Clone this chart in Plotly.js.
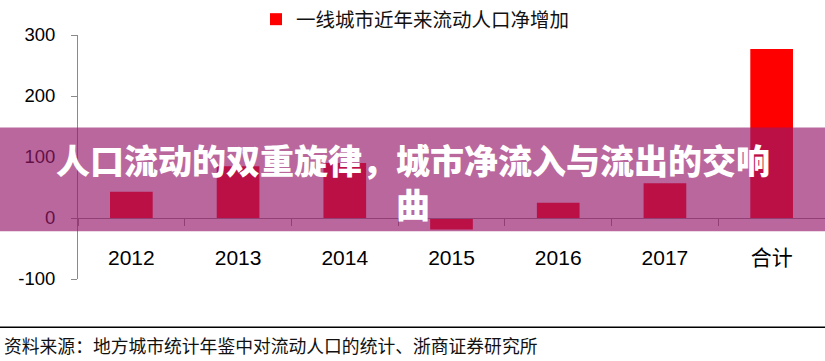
<!DOCTYPE html>
<html>
<head>
<meta charset="utf-8">
<script src="https://cdn.plot.ly/plotly-3.0.1.min.js"></script>
<style>
html,body{margin:0;padding:0;background:#fff;}
#chart{width:825px;height:361px;}
</style>
</head>
<body>
<div id="chart"></div>
<script>
const categories = ['2012', '2013', '2014', '2015', '2016', '2017', '合计'];
const netIncrease = [43, 85, 90, -19, 25, 57, 277];
const seriesName = '一线城市近年来流动人口净增加';
const yTickValues = [-100, 0, 100, 200, 300];
const bannerText = '人口流动的双重旋律，城市净流入与流出的交响<br>曲';
const sourceText = '资料来源：地方城市统计年鉴中对流动人口的统计、浙商证券研究所';

const W = 825, H = 361;
const mL = 78, mR = 0, mT = 34, mB = 82;
const plotH = H - mT - mB;
const plotW = W - mL - mR;
const py = p => (H - mB - p) / plotH;   // pixel y -> paper y
const px = p => (p - mL) / plotW;       // pixel x -> paper x

const axisGray = '#8a8a8a';
const numFont = 'Liberation Sans, Arial, Noto Sans CJK SC, sans-serif';
const cjkFont = 'Noto Sans CJK SC, sans-serif';

const data = [{
  type: 'bar',
  x: categories,
  y: netIncrease,
  name: seriesName,
  marker: {color: '#ff0000', line: {width: 0}},
  showlegend: true
}];

const layout = {
  width: W, height: H,
  margin: {l: mL, r: mR, t: mT, b: mB, pad: 0},
  paper_bgcolor: '#ffffff',
  plot_bgcolor: '#ffffff',
  bargap: 0.6,
  showlegend: true,
  legend: {
    orientation: 'h',
    x: px(256), xanchor: 'left',
    y: py(18), yanchor: 'middle',
    bgcolor: 'rgba(0,0,0,0)',
    font: {family: cjkFont, size: 19.5, color: '#111111'},
    itemwidth: 30
  },
  xaxis: {
    type: 'category',
    anchor: 'free',
    position: 0.25,
    showline: true, linecolor: axisGray, linewidth: 1,
    ticks: 'outside', tickson: 'boundaries', ticklen: 7, tickcolor: axisGray, tickwidth: 1,
    showgrid: false, zeroline: false,
    ticklabelstandoff: 21,
    tickfont: {family: numFont, size: 21, color: '#000000'},
    fixedrange: true
  },
  yaxis: {
    range: [-100, 300],
    tickvals: yTickValues,
    ticktext: yTickValues.map(String),
    showline: true, linecolor: axisGray, linewidth: 1,
    ticks: 'outside', ticklen: 6, tickcolor: axisGray, tickwidth: 1,
    showgrid: false, zeroline: false,
    ticklabelstandoff: 12,
    tickfont: {family: numFont, size: 18.5, color: '#000000'},
    fixedrange: true
  },
  shapes: [
    {
      type: 'rect', xref: 'paper', yref: 'paper', layer: 'above',
      x0: px(-5), x1: px(830), y0: py(231), y1: py(127),
      fillcolor: 'rgba(151,24,106,0.66)', line: {width: 0}
    },
    {
      type: 'line', xref: 'paper', yref: 'paper',
      x0: px(0), x1: px(825), y0: py(327.5), y1: py(327.5),
      line: {color: '#000000', width: 1.5}
    }
  ],
  annotations: [
    {
      text: bannerText,
      xref: 'paper', yref: 'paper',
      x: px(413), y: py(181), xanchor: 'center', yanchor: 'middle',
      showarrow: false, align: 'center',
      font: {family: cjkFont, size: 34, weight: 900, color: '#ffffff'}
    },
    {
      text: sourceText,
      xref: 'paper', yref: 'paper',
      x: px(2), y: py(345), xanchor: 'left', yanchor: 'middle',
      showarrow: false, align: 'left',
      font: {family: cjkFont, size: 17.8, color: '#111111'}
    }
  ]
};

Plotly.newPlot('chart', data, layout, {staticPlot: true, displayModeBar: false});
</script>
</body>
</html>
